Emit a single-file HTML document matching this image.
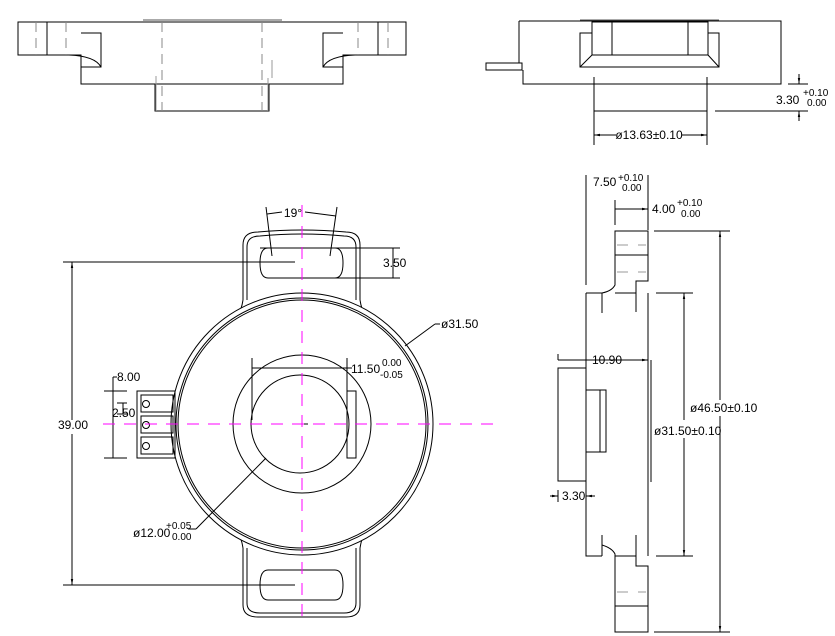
<!DOCTYPE html>
<html><head><meta charset="utf-8"><style>
html,body{margin:0;padding:0;background:#fff;}
svg{display:block;}
text{font-family:"Liberation Sans Narrow","Liberation Sans",sans-serif;font-size:12px;fill:#000;}
.s{font-size:10px;}
</style></head><body>
<svg width="835" height="636" viewBox="0 0 835 636" xmlns="http://www.w3.org/2000/svg">
<defs>
<marker id="a" viewBox="0 0 10 10" refX="10" refY="5" markerWidth="6" markerHeight="6" orient="auto-start-reverse"><path d="M0,3 L10,5 L0,7z" fill="#000"/></marker>
</defs>
<g fill="none" stroke="#000" stroke-width="1">
<!-- TOP LEFT VIEW -->
<path d="M18,22 H406 V55 H343 V84 H81 V55 H18 Z"/>
<line x1="143" y1="20" x2="282" y2="20" stroke="#555"/>
<path d="M81,33 H101 V67 H81"/>
<path d="M69,55 Q95,56 101,67"/>
<path d="M343,33 H323 V67 H343"/>
<path d="M355,55 Q329,56 323,67"/>
<line x1="47" y1="22" x2="47" y2="55"/>
<line x1="378" y1="22" x2="378" y2="55"/>
<rect x="155" y="84" width="114" height="27"/>
<g stroke="#888" stroke-dasharray="10,6">
<line x1="162" y1="22" x2="162" y2="111"/><line x1="262" y1="22" x2="262" y2="111"/>
<line x1="36" y1="22" x2="36" y2="55"/><line x1="66" y1="22" x2="66" y2="55"/>
<line x1="358" y1="22" x2="358" y2="55"/><line x1="388" y1="22" x2="388" y2="55"/>
</g>
<g stroke="#999"><line x1="272" y1="60" x2="272" y2="78"/><line x1="268" y1="78" x2="268" y2="111"/><line x1="156" y1="76" x2="156" y2="111"/></g>
<!-- TOP RIGHT VIEW -->
<path d="M519,21 H781 V84 H523 V70"/>
<line x1="519" y1="21" x2="519" y2="63"/>
<rect x="486" y="63" width="36" height="7"/>
<line x1="580" y1="20" x2="719" y2="20" stroke="#555"/>
<rect x="580" y="33" width="139" height="34"/>
<rect x="592" y="22" width="116" height="33" fill="#fff"/>
<line x1="612" y1="22" x2="612" y2="55"/><line x1="688" y1="22" x2="688" y2="55"/>
<line x1="592" y1="55" x2="580" y2="67"/><line x1="708" y1="55" x2="719" y2="67"/>
<path d="M594,77 V111 H707 V77"/>
<line x1="594" y1="111" x2="594" y2="145"/><line x1="707" y1="111" x2="707" y2="145"/>
<line x1="594" y1="135" x2="707" y2="135" marker-start="url(#a)" marker-end="url(#a)"/>
<line x1="788" y1="84" x2="808" y2="84"/><line x1="715" y1="111" x2="808" y2="111"/>
<line x1="799" y1="74" x2="799" y2="84" marker-end="url(#a)"/>
<line x1="799" y1="121" x2="799" y2="111" marker-end="url(#a)"/>
<!-- MAIN VIEW -->
<path d="M243,300 V245 Q243,232 258,232 Q302,228 346,232 Q360,232 360,245 V300"/>
<path d="M247,300 V247 Q247,236 260,236 Q302,232 344,236 Q356,236 356,247 V300"/>
<path d="M260,248 H335 Q343,248 343,263 Q343,278 335,278 H268 Q260,278 260,263 Q260,248 268,248"/>
<path d="M243,548 V605 Q243,617 258,617 H346 Q360,617 360,605 V548"/>
<path d="M247,548 V603 Q247,613 260,613 H344 Q356,613 356,603 V548"/>
<path d="M268,570 H335 Q343,570 343,585 Q343,600 335,600 H268 Q260,600 260,585 Q260,570 268,570"/>
<path d="M243,300 Q240,320 225,330 M360,300 Q363,320 378,330"/>
<path d="M243,548 Q240,528 225,518 M360,548 Q363,528 378,518"/>
<circle cx="302" cy="424" r="131" fill="#fff"/>
<circle cx="302" cy="424" r="126"/>
<circle cx="302" cy="424" r="124"/>
<circle cx="302" cy="424" r="69"/>
<circle cx="300" cy="424" r="49"/>
<rect x="347" y="391" width="9" height="67"/>
<rect x="137" y="391" width="38" height="67"/>
<rect x="141" y="395" width="32" height="17"/><rect x="141" y="416" width="32" height="17"/><rect x="141" y="437" width="32" height="17"/>
<circle cx="146" cy="404" r="3.5"/><circle cx="146" cy="425" r="3.5"/><circle cx="146" cy="446" r="3.5"/>
<line x1="296" y1="424" x2="308" y2="424"/>
<!-- dims main -->
<line x1="63" y1="262" x2="295" y2="262"/><line x1="63" y1="585" x2="295" y2="585"/>
<line x1="72" y1="262" x2="72" y2="420" marker-start="url(#a)"/>
<line x1="72" y1="434" x2="72" y2="585" marker-end="url(#a)"/>
<line x1="308" y1="248" x2="400" y2="248"/><line x1="330" y1="278" x2="400" y2="278"/>
<line x1="393" y1="248" x2="393" y2="278"/>
<line x1="266" y1="207" x2="272" y2="256"/><line x1="337" y1="207" x2="330" y2="256"/>
<path d="M267,214 L282,212 M305,212 L336,216"/>
<line x1="252" y1="358" x2="252" y2="420"/><line x1="347" y1="358" x2="347" y2="391"/>
<line x1="252" y1="368" x2="347" y2="368"/><line x1="347" y1="368" x2="352" y2="368"/>
<line x1="405" y1="346" x2="435" y2="324"/><line x1="435" y1="324" x2="440" y2="324"/>
<line x1="266" y1="458" x2="196" y2="529"/><line x1="196" y1="529" x2="188" y2="529"/>
<line x1="104" y1="391" x2="127" y2="391"/><line x1="104" y1="458" x2="127" y2="458"/>
<line x1="113" y1="377" x2="113" y2="458"/><line x1="113" y1="377" x2="117" y2="377"/>
<line x1="117" y1="403" x2="127" y2="403"/><line x1="117" y1="414" x2="127" y2="414"/>
<line x1="123" y1="403" x2="123" y2="414"/>
<!-- SIDE VIEW -->
<path d="M586,293 H602 M615,293 H636 V281 H648 V231 H615 V285 Q612,291 602,293"/>
<line x1="615" y1="255" x2="648" y2="255"/>
<path d="M586,293 V556 H602 M615,556 H636 V566 H648 V632 H615 V554 Q612,548 602,545"/>
<line x1="648" y1="293" x2="648" y2="556"/><line x1="636" y1="293" x2="636" y2="312"/>
<line x1="636" y1="535" x2="636" y2="556"/><line x1="602" y1="293" x2="602" y2="313"/>
<line x1="602" y1="535" x2="602" y2="556"/><line x1="615" y1="606" x2="648" y2="606"/>
<line x1="651" y1="360" x2="651" y2="482"/>
<rect x="558" y="368" width="28" height="113"/>
<rect x="586" y="390" width="20" height="62"/>
<line x1="600" y1="390" x2="600" y2="452"/>
<g stroke="#999"><line x1="617" y1="245" x2="628" y2="245"/><line x1="638" y1="245" x2="646" y2="245"/><line x1="617" y1="272" x2="628" y2="272"/><line x1="638" y1="272" x2="646" y2="272"/><line x1="617" y1="592" x2="628" y2="592"/><line x1="638" y1="592" x2="646" y2="592"/></g>
<line x1="586" y1="175" x2="586" y2="285"/><line x1="648" y1="175" x2="648" y2="230"/>
<line x1="615" y1="200" x2="615" y2="225"/>
<line x1="615" y1="209" x2="648" y2="209" marker-end="url(#a)"/>
<line x1="558" y1="354" x2="558" y2="360"/><line x1="558" y1="360" x2="648" y2="360" marker-end="url(#a)"/>
<line x1="558" y1="490" x2="558" y2="502"/>
<line x1="550" y1="496" x2="558" y2="496" marker-end="url(#a)"/>
<line x1="595" y1="496" x2="586" y2="496" marker-end="url(#a)"/>
<line x1="654" y1="231" x2="730" y2="231"/><line x1="654" y1="632" x2="730" y2="632"/>
<line x1="720" y1="231" x2="720" y2="400" marker-start="url(#a)"/>
<line x1="720" y1="416" x2="720" y2="632" marker-end="url(#a)"/>
<line x1="656" y1="293" x2="693" y2="293"/><line x1="656" y1="556" x2="693" y2="556"/>
<line x1="684" y1="293" x2="684" y2="420" marker-start="url(#a)"/>
<line x1="684" y1="438" x2="684" y2="556" marker-end="url(#a)"/>
</g>
<g stroke="#f0f" stroke-width="1" stroke-dasharray="12,9" fill="none">
<line x1="103" y1="424" x2="502" y2="424"/>
<line x1="302" y1="205" x2="302" y2="622"/>
</g>
<rect x="616" y="128" width="66" height="13" fill="#fff"/>
<text x="649" y="139" text-anchor="middle">ø13.63±0.10</text>
<text x="776" y="104">3.30</text>
<text x="803" y="96" class="s">+0.10</text><text x="807" y="106" class="s">0.00</text>
<text x="293" y="217" text-anchor="middle">19°</text>
<text x="383" y="267">3.50</text>
<text x="441" y="328">ø31.50</text>
<text x="351" y="373">11.50</text>
<text x="382" y="366" class="s">0.00</text><text x="380" y="378" class="s">-0.05</text>
<text x="117" y="381">8.00</text>
<text x="112" y="417">2.50</text>
<text x="58" y="429">39.00</text>
<text x="133" y="537">ø12.00</text>
<text x="166" y="529" class="s">+0.05</text><text x="172" y="540" class="s">0.00</text>
<text x="593" y="186">7.50</text>
<text x="618" y="181" class="s">+0.10</text><text x="622" y="191" class="s">0.00</text>
<text x="652" y="213">4.00</text>
<text x="677" y="206" class="s">+0.10</text><text x="681" y="217" class="s">0.00</text>
<text x="592" y="364">10.90</text>
<text x="562" y="500">3.30</text>
<text x="690" y="412">ø46.50±0.10</text>
<text x="654" y="435">ø31.50±0.10</text>
</svg>
</body></html>
